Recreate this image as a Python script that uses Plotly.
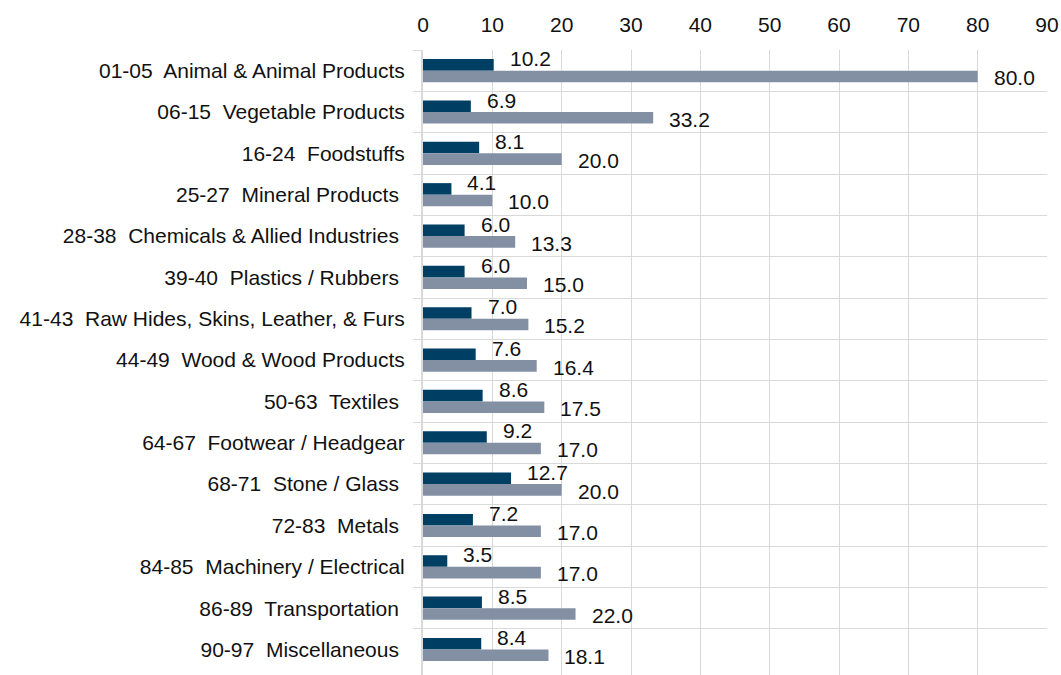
import plotly.graph_objects as go

categories = [
    "01-05  Animal & Animal Products",
    "06-15  Vegetable Products",
    "16-24  Foodstuffs",
    "25-27  Mineral Products ",
    "28-38  Chemicals & Allied Industries ",
    "39-40  Plastics / Rubbers ",
    "41-43  Raw Hides, Skins, Leather, & Furs",
    "44-49  Wood & Wood Products",
    "50-63  Textiles ",
    "64-67  Footwear / Headgear",
    "68-71  Stone / Glass ",
    "72-83  Metals ",
    "84-85  Machinery / Electrical",
    "86-89  Transportation ",
    "90-97  Miscellaneous ",
]
series_a = [10.2, 6.9, 8.1, 4.1, 6.0, 6.0, 7.0, 7.6, 8.6, 9.2, 12.7, 7.2, 3.5, 8.5, 8.4]
series_b = [80.0, 33.2, 20.0, 10.0, 13.3, 15.0, 15.2, 16.4, 17.5, 17.0, 20.0, 17.0, 17.0, 22.0, 18.1]
x_ticks = [0, 10, 20, 30, 40, 50, 60, 70, 80, 90]

# keep double / trailing spaces visible in SVG text
labels = [c.replace("  ", "\u00a0 ").rstrip() + ("\u00a0" if c.endswith(" ") else "") for c in categories]

DARK = "#003F64"
GRAY = "#8390A3"
FONT = "Liberation Sans, Arial, sans-serif"
FS = 21

fig = go.Figure()
fig.add_trace(go.Bar(y=labels, x=series_a, orientation="h", marker=dict(color=DARK, line=dict(width=0)),
                     name="Series A", hoverinfo="x+y"))
fig.add_trace(go.Bar(y=labels, x=series_b, orientation="h", marker=dict(color=GRAY, line=dict(width=0)),
                     name="Series B", hoverinfo="x+y"))

annotations = []
for lab, va, vb in zip(labels, series_a, series_b):
    annotations.append(dict(x=va, y=lab, xref="x", yref="y", text=f"{va:.1f}", showarrow=False,
                            xanchor="left", yanchor="middle", xshift=14, yshift=12,
                            font=dict(family=FONT, size=FS, color="#111111")))
    annotations.append(dict(x=vb, y=lab, xref="x", yref="y", text=f"{vb:.1f}", showarrow=False,
                            xanchor="left", yanchor="middle", xshift=14, yshift=-7,
                            font=dict(family=FONT, size=FS, color="#111111")))

fig.update_layout(
    width=1061, height=675,
    margin=dict(l=423, r=14, t=50, b=0, pad=0),
    paper_bgcolor="white", plot_bgcolor="white",
    barmode="group", bargap=0.44, bargroupgap=0.0,
    showlegend=False,
    font=dict(family=FONT, size=FS, color="#111111"),
    annotations=annotations,
    xaxis=dict(side="top", range=[0, 90], tickmode="array", tickvals=x_ticks,
               showgrid=True, gridcolor="#D9D9D9", gridwidth=1.3, zeroline=False,
               showline=False, ticks="", ticklabelstandoff=13,
               tickfont=dict(family=FONT, size=FS, color="#111111")),
    yaxis=dict(type="category", autorange="reversed", tickson="boundaries",
               showgrid=True, gridcolor="#D9D9D9", gridwidth=1.3,
               ticks="outside", ticklen=8, tickcolor="#D9D9D9", tickwidth=1.3,
               showline=True, linecolor="#D9D9D9", linewidth=2,
               ticklabelstandoff=12,
               tickfont=dict(family=FONT, size=FS, color="#111111")),
)

fig.write_html("out.html", config={"displayModeBar": False},
               post_script="document.body.style.margin='0';document.body.style.overflow='hidden';")
